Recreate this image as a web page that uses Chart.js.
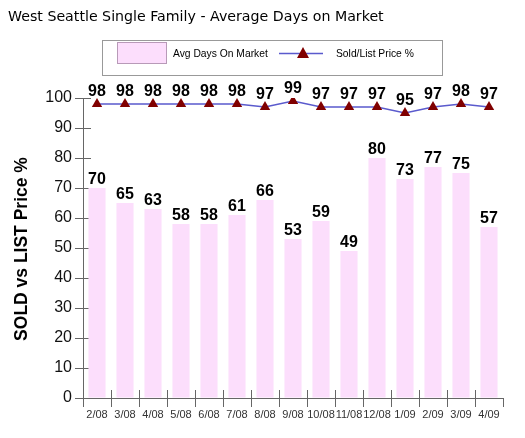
<!DOCTYPE html>
<html>
<head>
<meta charset="utf-8">
<title>West Seattle Single Family - Average Days on Market</title>
<script src="https://cdn.jsdelivr.net/npm/chart.js@4"></script>
<style>
  html, body { margin: 0; padding: 0; background: #fff; }
  #wrap { width: 525px; height: 438px; position: relative; }
</style>
</head>
<body>
<div id="wrap"><canvas id="domChart" width="525" height="438"></canvas></div>
<script>
// Chart data
const months = ['2/08', '3/08', '4/08', '5/08', '6/08', '7/08', '8/08', '9/08', '10/08', '11/08', '12/08', '1/09', '2/09', '3/09', '4/09'];
const avgDaysOnMarket = [70, 65, 63, 58, 58, 61, 66, 53, 59, 49, 80, 73, 77, 75, 57];
const soldListPct = [98, 98, 98, 98, 98, 98, 97, 99, 97, 97, 97, 95, 97, 98, 97];
const yTicks = [0, 10, 20, 30, 40, 50, 60, 70, 80, 90, 100];

const barColor = '#FCDEFC';
const lineColor = '#5A5ACD';
const markerColor = '#800000';
const axisColor = '#666';

document.addEventListener("DOMContentLoaded", function () {
  const ctxEl = document.getElementById("domChart");

  // Title, boxed legend, axis title and value labels
  const decorations = {
    id: 'decorations',
    beforeDatasetsDraw(chart) {
      // tick marks cross the axis lines, draw the inner half here
      const ctx = chart.ctx;
      const xs = chart.scales.x;
      const ys = chart.scales.y;
      const area = chart.chartArea;
      ctx.save();
      ctx.strokeStyle = axisColor;
      ctx.lineWidth = 1;
      ctx.beginPath();
      yTicks.forEach(function (v) {
        const py = Math.round(ys.getPixelForValue(v)) + 0.5;
        ctx.moveTo(area.left, py);
        ctx.lineTo(area.left + 8, py);
      });
      for (let i = 1; i < months.length; i++) {
        const px = Math.round((xs.getPixelForValue(i - 1) + xs.getPixelForValue(i)) / 2) + 0.5;
        ctx.moveTo(px, area.bottom);
        ctx.lineTo(px, area.bottom - 8);
      }
      ctx.stroke();
      ctx.restore();
    },
    afterDatasetsDraw(chart) {
      const ctx = chart.ctx;
      ctx.save();
      ctx.fillStyle = '#000';
      ctx.font = 'bold 16px Arial, "Liberation Sans", sans-serif';
      ctx.textAlign = 'center';
      ctx.textBaseline = 'alphabetic';

      // bar values
      chart.getDatasetMeta(0).data.forEach(function (bar, i) {
        ctx.fillText(String(avgDaysOnMarket[i]), bar.x, bar.y - 4);
      });
      // line values
      chart.getDatasetMeta(1).data.forEach(function (pt, i) {
        ctx.fillText(String(soldListPct[i]), pt.x, pt.y - 8);
      });
      ctx.restore();
    },
    afterDraw(chart) {
      const ctx = chart.ctx;
      ctx.save();

      // title
      ctx.fillStyle = '#000';
      ctx.font = '14.2px "DejaVu Sans", Verdana, sans-serif';
      ctx.textAlign = 'left';
      ctx.textBaseline = 'alphabetic';
      ctx.fillText('West Seattle Single Family - Average Days on Market', 8, 21);

      // legend box
      ctx.strokeStyle = '#999';
      ctx.lineWidth = 1;
      ctx.strokeRect(102.5, 40.5, 340, 35);
      ctx.fillStyle = barColor;
      ctx.fillRect(117, 42, 49, 21);
      ctx.strokeStyle = '#B89AB8';
      ctx.strokeRect(117.5, 42.5, 49, 21);

      ctx.fillStyle = '#000';
      ctx.font = '10.3px Arial, "Liberation Sans", sans-serif';
      ctx.textBaseline = 'middle';
      ctx.fillText('Avg Days On Market', 173, 54);
      ctx.fillText('Sold/List Price %', 336, 54);

      ctx.strokeStyle = lineColor;
      ctx.lineWidth = 1.5;
      ctx.beginPath();
      ctx.moveTo(279, 53.5);
      ctx.lineTo(323, 53.5);
      ctx.stroke();
      ctx.fillStyle = markerColor;
      ctx.beginPath();
      ctx.moveTo(303, 47);
      ctx.lineTo(309, 58);
      ctx.lineTo(297, 58);
      ctx.closePath();
      ctx.fill();

      // y axis title
      ctx.translate(22, 249);
      ctx.rotate(-Math.PI / 2);
      ctx.fillStyle = '#000';
      ctx.font = 'bold 17.5px Arial, "Liberation Sans", sans-serif';
      ctx.textAlign = 'center';
      ctx.textBaseline = 'middle';
      ctx.fillText('SOLD vs LIST Price %', 0, 0);
      ctx.restore();
    }
  };

  new Chart(ctxEl, {
    data: {
      labels: months,
      datasets: [{
        type: 'bar',
        label: 'Avg Days On Market',
        data: avgDaysOnMarket,
        backgroundColor: barColor,
        borderWidth: 0,
        categoryPercentage: 1,
        barPercentage: 0.61,
        order: 1
      }, {
        type: 'line',
        label: 'Sold/List Price %',
        data: soldListPct,
        borderColor: lineColor,
        borderWidth: 1.5,
        pointStyle: 'triangle',
        pointRadius: 6,
        pointBackgroundColor: markerColor,
        pointBorderColor: markerColor,
        pointBorderWidth: 0,
        tension: 0,
        order: 0
      }]
    },
    options: {
      responsive: false,
      animation: false,
      devicePixelRatio: 1,
      layout: { padding: { top: 98, right: 22, left: 0, bottom: 0 } },
      plugins: {
        legend: { display: false },
        title: { display: false },
        tooltip: { enabled: false }
      },
      scales: {
        x: {
          offset: true,
          grid: {
            offset: true,
            drawOnChartArea: false,
            tickLength: 9,
            color: axisColor
          },
          border: { color: axisColor },
          ticks: {
            color: '#333',
            font: { family: 'Arial, "Liberation Sans", sans-serif', size: 11 },
            maxRotation: 0,
            autoSkip: false,
            padding: 1
          },
          afterFit: function (scale) { scale.height = 40; }
        },
        y: {
          min: 0,
          max: 100,
          afterBuildTicks: function (scale) {
            scale.ticks = yTicks.map(function (v) { return { value: v }; });
          },
          grid: {
            drawOnChartArea: false,
            tickLength: 8,
            color: axisColor
          },
          border: { color: axisColor },
          ticks: {
            color: '#111',
            font: { family: 'Arial, "Liberation Sans", sans-serif', size: 16 },
            padding: 3
          },
          afterFit: function (scale) { scale.width = 83; }
        }
      }
    },
    plugins: [decorations]
  });
});
</script>
</body>
</html>
